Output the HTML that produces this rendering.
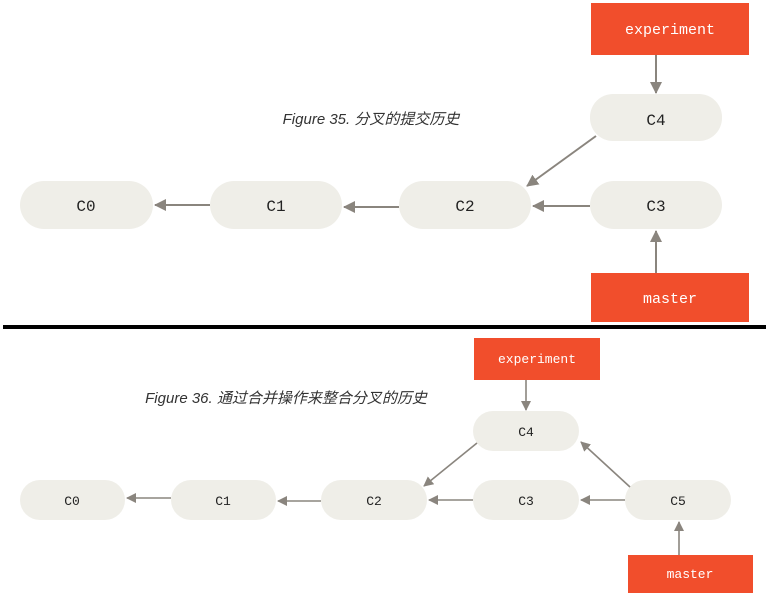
<!DOCTYPE html>
<html><head><meta charset="utf-8"><style>
html,body{margin:0;padding:0;background:#fff;width:766px;height:601px;overflow:hidden}
svg text{font-family:"Liberation Mono",monospace}
.cap{font-family:"Liberation Sans","Noto Sans CJK SC",sans-serif;font-style:italic;fill:#333}
</style></head><body>
<svg width="766" height="601" viewBox="0 0 766 601">
<defs>
<marker id="a" markerWidth="10" markerHeight="10" refX="9" refY="5" orient="auto" markerUnits="userSpaceOnUse">
<path d="M0,0 L10,5 L0,10 z" fill="#8a857e"/></marker>
<marker id="b" markerWidth="12" markerHeight="12" refX="11" refY="6" orient="auto" markerUnits="userSpaceOnUse">
<path d="M0,0 L12,6 L0,12 z" fill="#8a857e"/></marker>
</defs>
<g fill="#efeee8">
<rect x="20" y="181" width="133" height="48" rx="24"/>
<rect x="210" y="181" width="132" height="48" rx="24"/>
<rect x="399" y="181" width="132" height="48" rx="24"/>
<rect x="590" y="181" width="132" height="48" rx="24"/>
<rect x="590" y="94" width="132" height="47" rx="23"/>
</g>
<rect x="591" y="3" width="158" height="52" fill="#f14e2c"/>
<rect x="591" y="273" width="158" height="49" fill="#f14e2c"/>
<g stroke="#8a857e" stroke-width="2" fill="none" marker-end="url(#b)">
<line x1="656" y1="55" x2="656" y2="93"/>
<line x1="656" y1="273" x2="656" y2="231"/>
<line x1="590" y1="206" x2="533" y2="206"/>
<line x1="399" y1="207" x2="344" y2="207"/>
<line x1="210" y1="205" x2="155" y2="205"/>
<line x1="596" y1="136" x2="527" y2="186"/>
</g>
<g font-size="16" fill="#222" text-anchor="middle">
<text x="86" y="211">C0</text><text x="276" y="211">C1</text>
<text x="465" y="211">C2</text><text x="656" y="211">C3</text>
<text x="656" y="125">C4</text>
</g>
<text x="670" y="34" font-size="15" fill="#fff" text-anchor="middle">experiment</text>
<text x="670" y="303" font-size="15" fill="#fff" text-anchor="middle">master</text>
<text class="cap" x="371" y="124" font-size="15" text-anchor="middle">Figure 35. 分叉的提交历史</text>
<rect x="3" y="325" width="763" height="4" fill="#000"/>
<g fill="#efeee8">
<rect x="20" y="480" width="105" height="40" rx="20"/>
<rect x="171" y="480" width="105" height="40" rx="20"/>
<rect x="321" y="480" width="106" height="40" rx="20"/>
<rect x="473" y="480" width="106" height="40" rx="20"/>
<rect x="625" y="480" width="106" height="40" rx="20"/>
<rect x="473" y="411" width="106" height="40" rx="20"/>
</g>
<rect x="474" y="338" width="126" height="42" fill="#f14e2c"/>
<rect x="628" y="555" width="125" height="38" fill="#f14e2c"/>
<g stroke="#8a857e" stroke-width="1.6" fill="none" marker-end="url(#a)">
<line x1="526" y1="380" x2="526" y2="410"/>
<line x1="679" y1="555" x2="679" y2="522"/>
<line x1="625" y1="500" x2="581" y2="500"/>
<line x1="473" y1="500" x2="429" y2="500"/>
<line x1="321" y1="501" x2="278" y2="501"/>
<line x1="171" y1="498" x2="127" y2="498"/>
<line x1="477" y1="443" x2="424" y2="486"/>
<line x1="630" y1="487" x2="581" y2="442"/>
</g>
<g font-size="13" fill="#222" text-anchor="middle">
<text x="72" y="505">C0</text><text x="223" y="505">C1</text>
<text x="374" y="505">C2</text><text x="526" y="505">C3</text>
<text x="678" y="505">C5</text><text x="526" y="436">C4</text>
</g>
<text x="537" y="363" font-size="13" fill="#fff" text-anchor="middle">experiment</text>
<text x="690" y="578" font-size="13" fill="#fff" text-anchor="middle">master</text>
<text class="cap" x="286" y="403" font-size="15" text-anchor="middle">Figure 36. 通过合并操作来整合分叉的历史</text>
</svg>
</body></html>
